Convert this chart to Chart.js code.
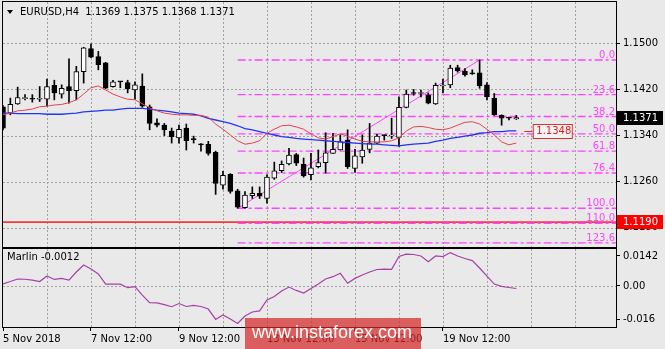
<!DOCTYPE html>
<html>
<head>
<meta charset="utf-8">
<script src="https://cdn.jsdelivr.net/npm/chart.js@4.4.1/dist/chart.umd.min.js"></script>
<style>
  body { margin: 0; background: #e9e9e9; }
  #marco { position: relative; width: 665px; height: 349px; background: #e9e9e9; overflow: hidden; }
  canvas { position: absolute; left: 0; }
  #graficoPrecio { top: 0; }
  #graficoMarlin { top: 248px; }
</style>
</head>
<body>
<div id="marco">
  <canvas id="graficoPrecio" width="665" height="248"></canvas>
  <canvas id="graficoMarlin" width="665" height="101"></canvas>
</div>
<script>
// ====================================================================
// DATOS - EURUSD H4, velas
// ====================================================================
const simbolo = 'EURUSD,H4';
const cotizacion = ['1.1369', '1.1375', '1.1368', '1.1371'];

const opens = [1.1390,1.1379,1.1395,1.1404,1.1403,1.1403,1.1403,1.1427,1.1412,1.1425,
  1.1418,1.1451,1.1491,1.1477,1.1466,1.1425,1.1433,1.1432,1.1419,1.1426,
  1.1390,1.1362,1.1358,1.1348,1.1336,1.1353,1.1335,1.1325,1.1325,1.1311,
  1.1254,1.1273,1.1244,1.1215,1.1236,1.1240,1.1231,1.1266,1.1279,1.1291,
  1.1307,1.1290,1.1272,1.1286,1.1293,1.1309,1.1315,1.1332,1.1283,1.1303,
  1.1316,1.1327,1.1340,1.1339,1.1337,1.1389,1.1414,1.1413,1.1410,1.1395,
  1.1426,1.1428,1.1458,1.1452,1.1447,1.1449,1.1428,1.1405,1.1375,1.1370,
  1.1369];
const highs = [1.1392,1.1405,1.1424,1.1411,1.1411,1.1425,1.1438,1.1436,1.1428,1.1473,
  1.1460,1.1493,1.1499,1.1486,1.1467,1.1436,1.1434,1.1436,1.1433,1.1447,
  1.1393,1.1369,1.1361,1.1353,1.1358,1.1360,1.1339,1.1326,1.1330,1.1313,
  1.1278,1.1274,1.1247,1.1243,1.1251,1.1251,1.1272,1.1294,1.1296,1.1318,
  1.1309,1.1301,1.1309,1.1315,1.1345,1.1344,1.1341,1.1350,1.1316,1.1341,
  1.1361,1.1342,1.1341,1.1370,1.1407,1.1419,1.1420,1.1419,1.1414,1.1431,
  1.1438,1.1462,1.1462,1.1456,1.1454,1.1471,1.1432,1.1413,1.1376,1.1372,
  1.1375];
const lows = [1.1350,1.1376,1.1394,1.1402,1.1398,1.1399,1.1391,1.1402,1.1405,1.1396,
  1.1402,1.1431,1.1475,1.1454,1.1421,1.1424,1.1423,1.1414,1.1403,1.1389,
  1.1350,1.1355,1.1340,1.1327,1.1327,1.1315,1.1327,1.1313,1.1306,1.1238,
  1.1247,1.1240,1.1214,1.1214,1.1231,1.1231,1.1223,1.1264,1.1276,1.1289,
  1.1288,1.1268,1.1263,1.1284,1.1275,1.1309,1.1315,1.1283,1.1276,1.1292,
  1.1310,1.1326,1.1332,1.1335,1.1321,1.1388,1.1410,1.1407,1.1395,1.1394,
  1.1414,1.1423,1.1450,1.1443,1.1446,1.1422,1.1402,1.1375,1.1358,1.1367,
  1.1368];
const closes = [1.1353,1.1394,1.1406,1.1406,1.1403,1.1404,1.1425,1.1414,1.1422,1.1418,
  1.1451,1.1492,1.1476,1.1463,1.1422,1.1433,1.1433,1.1421,1.1428,1.1391,
  1.1361,1.1358,1.1350,1.1338,1.1351,1.1331,1.1333,1.1324,1.1309,1.1257,
  1.1271,1.1243,1.1216,1.1237,1.1240,1.1235,1.1268,1.1279,1.1290,1.1306,
  1.1292,1.1270,1.1284,1.1293,1.1310,1.1316,1.1329,1.1286,1.1305,1.1315,
  1.1327,1.1339,1.1340,1.1341,1.1389,1.1412,1.1413,1.1414,1.1396,1.1427,
  1.1427,1.1457,1.1452,1.1445,1.1447,1.1426,1.1407,1.1376,1.1370,1.1370,
  1.1371];

// medias moviles (roja rapida, azul lenta)
const maRoja = [1.1376,1.1379,1.1383,1.1384,1.1386,1.1390,1.1391,1.1393,1.1394,1.1397,
  1.1402,1.1412,1.1423,1.1426,1.1419,1.1412,1.1407,1.1403,1.1402,1.1395,
  1.1388,1.1383,1.1379,1.1377,1.1376,1.1376,1.1375,1.1375,1.1372,1.1360,
  1.1351,1.1341,1.1331,1.1325,1.1327,1.1331,1.1344,1.1351,1.1357,1.1358,
  1.1355,1.1351,1.1343,1.1336,1.1334,1.1338,1.1343,1.1339,1.1334,1.1330,
  1.1329,1.1329,1.1329,1.1331,1.1336,1.1348,1.1355,1.1356,1.1354,1.1351,
  1.1350,1.1353,1.1358,1.1363,1.1364,1.1360,1.1351,1.1341,1.1329,1.1324,
  1.1327];
const maAzul = [1.1379,1.1379,1.1378,1.1378,1.1378,1.1378,1.1377,1.1377,1.1377,1.1378,
  1.1379,1.1381,1.1382,1.1383,1.1384,1.1384,1.1386,1.1387,1.1387,1.1387,
  1.1386,1.1384,1.1383,1.1381,1.1379,1.1378,1.1377,1.1374,1.1370,1.1367,
  1.1364,1.1361,1.1357,1.1352,1.1350,1.1347,1.1344,1.1341,1.1338,1.1337,
  1.1335,1.1334,1.1333,1.1332,1.1331,1.1330,1.1329,1.1328,1.1327,1.1326,
  1.1325,1.1325,1.1324,1.1323,1.1322,1.1324,1.1325,1.1326,1.1327,1.1330,
  1.1332,1.1335,1.1337,1.1339,1.1341,1.1344,1.1345,1.1347,1.1347,1.1348,
  1.1348];

// oscilador Marlin
const marlin = [0.0010,0.0021,0.0033,0.0032,0.0028,0.0021,0.0047,0.0031,0.0036,0.0028,
  0.0066,0.0099,0.0080,0.0057,0.0009,0.0009,0.0009,-0.0008,-0.0003,-0.0043,
  -0.0079,-0.0080,-0.0088,-0.0098,-0.0083,-0.0097,-0.0092,-0.0097,-0.0109,-0.0158,
  -0.0137,-0.0156,-0.0177,-0.0142,-0.0123,-0.0118,-0.0066,-0.0050,-0.0024,-0.0005,
  -0.0021,-0.0033,-0.0012,0.0009,0.0033,0.0044,0.0060,0.0013,0.0036,0.0052,
  0.0066,0.0078,0.0080,0.0079,0.0140,0.0151,0.0149,0.0142,0.0115,0.0142,
  0.0139,0.0158,0.0142,0.0130,0.0120,0.0085,0.0047,0.0009,-0.0002,-0.0007,
  -0.0012];

// Fibonacci (de la vela 32 a la vela 65)
const fibInicio = 32;
const fibFin = 65;
const fibNiveles = ['0.0', '23.6', '38.2', '50.0', '61.8', '76.4', '100.0', '110.0', '123.6'];
const fibPrecios = [1.1471, 1.1411, 1.1373, 1.1343, 1.1313, 1.1275, 1.1214, 1.1188, 1.1154];
const soporte = 1.1190;

// ejes
const preciosEje = [1.1180, 1.1260, 1.1340, 1.1420, 1.1500];
const marlinEje = [-0.016, 0, 0.0142];
const marlinEjeTexto = ['-0.016', '0.00', '0.0142'];
const barrasGrid = [0, 6, 12, 18, 24, 30, 36, 42, 48, 54, 60, 66, 72, 78];
const barrasEtiqueta = [0, 12, 24, 36, 48, 60];
const etiquetasFecha = ['5 Nov 2018', '7 Nov 12:00', '9 Nov 12:00', '13 Nov 12:00', '15 Nov 12:00', '19 Nov 12:00'];
const barrasVisibles = 83.6;

// ====================================================================
// ESTILO
// ====================================================================
const FUENTE = { family: 'DejaVu Sans', size: 10 };
const FUENTE_TXT = '10px "DejaVu Sans"';
const GRID = '#a2a2a2';
const FIB = '#ff44ff';

function puntos(arr) {
    return arr.map((v, i) => ({ x: i, y: v }));
}

function linea(desde, hasta, valor) {
    return [{ x: desde, y: valor }, { x: hasta, y: valor }];
}

// quitar el relleno que Chart.js reserva para las etiquetas extremas
function sinRelleno(s) {
    s.paddingTop = 0;
    s.paddingBottom = 0;
    s.paddingLeft = 0;
    s.paddingRight = 0;
}

// rejilla punteada, dibujada por detras de todo (destination-over)
const pluginRejilla = {
    id: 'rejilla',
    afterDraw(chart, args, opts) {
        const ctx = chart.ctx;
        const a = chart.chartArea;
        const xs = chart.scales.x;
        const ys = chart.scales.y;
        ctx.save();
        ctx.globalCompositeOperation = 'destination-over';
        ctx.fillStyle = GRID;
        barrasGrid.forEach(b => {
            const x = Math.round(xs.getPixelForValue(b));
            if (x <= a.left + 1 || x >= a.right - 1) return;
            for (let y = Math.ceil(a.top); y < a.bottom; y += 4) ctx.fillRect(x, y, 1, 2);
        });
        (opts.niveles || []).forEach(v => {
            const y = Math.round(ys.getPixelForValue(v));
            for (let x = Math.ceil(a.left); x < a.right; x += 4) ctx.fillRect(x, y, 2, 1);
        });
        ctx.restore();
    }
};

// marco negro del area de trazado
const pluginMarco = {
    id: 'marco',
    afterDraw(chart) {
        const a = chart.chartArea;
        const ctx = chart.ctx;
        ctx.save();
        ctx.strokeStyle = '#000';
        ctx.lineWidth = 1;
        ctx.strokeRect(a.left - 0.5, a.top - 0.5, a.right - a.left + 1, a.bottom - a.top + 1);
        ctx.restore();
    }
};

// titulo, etiquetas fibo y cajas de precio
const pluginPrecio = {
    id: 'extrasPrecio',
    afterDraw(chart) {
        const ctx = chart.ctx;
        const ys = chart.scales.y;
        const xs = chart.scales.x;
        const a = chart.chartArea;
        ctx.save();
        ctx.font = FUENTE_TXT;

        ctx.fillStyle = '#000';
        ctx.beginPath();
        ctx.moveTo(7, 10); ctx.lineTo(13, 10); ctx.lineTo(10, 14);
        ctx.closePath();
        ctx.fill();
        ctx.textAlign = 'left';
        ctx.textBaseline = 'middle';
        ctx.fillText(simbolo + '  ' + cotizacion.join(' '), 20, 12);

        ctx.fillStyle = FIB;
        ctx.textAlign = 'right';
        ctx.textBaseline = 'alphabetic';
        fibPrecios.forEach((p, k) => {
            ctx.fillText(fibNiveles[k], a.right - 1, ys.getPixelForValue(p) - 2);
        });

        // etiqueta de la media azul
        const ultimo = maAzul.length - 1;
        const yMa = Math.round(ys.getPixelForValue(maAzul[ultimo])) + 0.5;
        const xMa = xs.getPixelForValue(ultimo) + 8;
        ctx.strokeStyle = '#e03030';
        ctx.beginPath();
        ctx.moveTo(xMa, yMa); ctx.lineTo(xMa + 8, yMa);
        ctx.stroke();
        ctx.fillStyle = '#f3f3f3';
        ctx.fillRect(xMa + 9, yMa - 7, 39, 14);
        ctx.strokeRect(xMa + 9, yMa - 7, 39, 14);
        ctx.fillStyle = '#e02020';
        ctx.textAlign = 'left';
        ctx.textBaseline = 'middle';
        ctx.fillText(maAzul[ultimo].toFixed(4), xMa + 12, yMa);

        // cajas del eje derecho
        const cajas = [[closes[closes.length - 1], '#000000'], [soporte, '#ff0000']];
        cajas.forEach(([valor, color]) => {
            const y = Math.round(ys.getPixelForValue(valor));
            ctx.fillStyle = color;
            ctx.fillRect(a.right + 1, y - 7, 46, 14);
            ctx.fillStyle = '#ffffff';
            ctx.fillText(valor.toFixed(4), a.right + 7, y);
        });
        ctx.restore();
    }
};

const pluginMarlin = {
    id: 'extrasMarlin',
    afterDraw(chart) {
        const ctx = chart.ctx;
        ctx.save();
        ctx.font = FUENTE_TXT;
        ctx.fillStyle = '#000';
        ctx.textAlign = 'left';
        ctx.textBaseline = 'middle';
        ctx.fillText('Marlin ' + marlin[marlin.length - 1].toFixed(4), 7, 9);

        // marca de agua
        ctx.fillStyle = 'rgba(214, 40, 40, 0.72)';
        ctx.fillRect(245, 70, 176, 31);
        ctx.fillStyle = '#ffffff';
        ctx.font = '18px "Liberation Sans"';
        ctx.textAlign = 'center';
        ctx.fillText('www.instaforex.com', 332, 85);
        ctx.restore();
    }
};

function ejeX(conEtiquetas) {
    return {
        type: 'linear',
        min: 0,
        max: barrasVisibles,
        offset: false,
        afterBuildTicks: s => { s.ticks = barrasGrid.map(v => ({ value: v })); },
        afterFit: s => { s.height = conEtiquetas ? 22 : 0; sinRelleno(s); },
        ticks: {
            display: conEtiquetas,
            color: '#000',
            font: FUENTE,
            padding: 2,
            align: 'start',
            maxRotation: 0,
            autoSkip: false,
            callback: v => {
                const k = barrasEtiqueta.indexOf(v);
                return k >= 0 ? etiquetasFecha[k] : '';
            }
        },
        grid: {
            drawOnChartArea: false,
            offset: false,
            drawTicks: conEtiquetas,
            tickLength: 4,
            tickColor: c => (c.tick && barrasEtiqueta.includes(c.tick.value)) ? '#000' : 'rgba(0,0,0,0)'
        },
        border: { display: false }
    };
}

// ====================================================================
// GRAFICO DE PRECIO
// ====================================================================
const datasetsFib = fibPrecios.map(p => ({
    type: 'line',
    data: linea(fibInicio, barrasVisibles, p),
    borderColor: FIB,
    borderWidth: 1.4,
    borderDash: [8, 3, 3, 3],
    pointRadius: 0,
    order: 3
}));

new Chart(document.getElementById('graficoPrecio'), {
    type: 'line',
    data: {
        datasets: [
            { type: 'line', data: puntos(maRoja), borderColor: '#e8404f', borderWidth: 1, pointRadius: 0, order: 0 },
            { type: 'line', data: puntos(maAzul), borderColor: '#2236f0', borderWidth: 1.3, pointRadius: 0, order: 0 },
            {
                type: 'bar',
                data: opens.map((o, i) => ({ x: i, y: [o, closes[i]] })),
                backgroundColor: opens.map((o, i) => closes[i] > o ? '#ffffff' : '#000000'),
                borderColor: '#000',
                borderWidth: 1,
                borderSkipped: false,
                barThickness: 5,
                minBarLength: 1,
                grouped: false,
                order: 1
            },
            {
                type: 'bar',
                data: lows.map((l, i) => ({ x: i, y: [l, highs[i]] })),
                backgroundColor: '#000',
                barThickness: 1,
                grouped: false,
                order: 2
            },
            ...datasetsFib,
            {
                type: 'line',
                data: [{ x: fibInicio, y: lows[fibInicio] }, { x: fibFin, y: highs[fibFin] }],
                borderColor: FIB,
                borderWidth: 1,
                pointRadius: 0,
                order: 3
            },
            {
                type: 'line',
                data: linea(0, barrasVisibles, soporte),
                borderColor: '#f03c3c',
                borderWidth: 1.6,
                pointRadius: 0,
                order: 4
            }
        ]
    },
    options: {
        responsive: false,
        animation: false,
        layout: { padding: { left: 3, top: 2, right: 0, bottom: 1 } },
        plugins: {
            legend: { display: false },
            tooltip: { enabled: false },
            rejilla: { niveles: preciosEje }
        },
        scales: {
            x: ejeX(false),
            y: {
                position: 'right',
                min: 1.11468,
                max: 1.15716,
                afterBuildTicks: s => { s.ticks = preciosEje.map(v => ({ value: v })); },
                afterFit: s => { s.width = 49; sinRelleno(s); },
                ticks: { color: '#000', font: FUENTE, padding: 3, callback: v => v.toFixed(4) },
                grid: { drawOnChartArea: false, tickColor: '#000', tickLength: 4 },
                border: { display: false }
            }
        }
    },
    plugins: [pluginRejilla, pluginMarco, pluginPrecio]
});

// ====================================================================
// GRAFICO MARLIN
// ====================================================================
new Chart(document.getElementById('graficoMarlin'), {
    type: 'line',
    data: {
        datasets: [{
            data: puntos(marlin),
            borderColor: '#a840a8',
            borderWidth: 1.2,
            pointRadius: 0
        }]
    },
    options: {
        responsive: false,
        animation: false,
        layout: { padding: { left: 3, top: 1, right: 0, bottom: 0 } },
        plugins: {
            legend: { display: false },
            tooltip: { enabled: false },
            rejilla: { niveles: [0] }
        },
        scales: {
            x: ejeX(true),
            y: {
                position: 'right',
                min: -0.0194,
                max: 0.0175,
                afterBuildTicks: s => { s.ticks = marlinEje.map(v => ({ value: v })); },
                afterFit: s => { s.width = 49; sinRelleno(s); },
                ticks: {
                    color: '#000',
                    font: FUENTE,
                    padding: 3,
                    callback: v => {
                        const k = marlinEje.indexOf(v);
                        return k >= 0 ? marlinEjeTexto[k] : '';
                    }
                },
                grid: { drawOnChartArea: false, tickColor: '#000', tickLength: 4 },
                border: { display: false }
            }
        }
    },
    plugins: [pluginRejilla, pluginMarco, pluginMarlin]
});
</script>
</body>
</html>
